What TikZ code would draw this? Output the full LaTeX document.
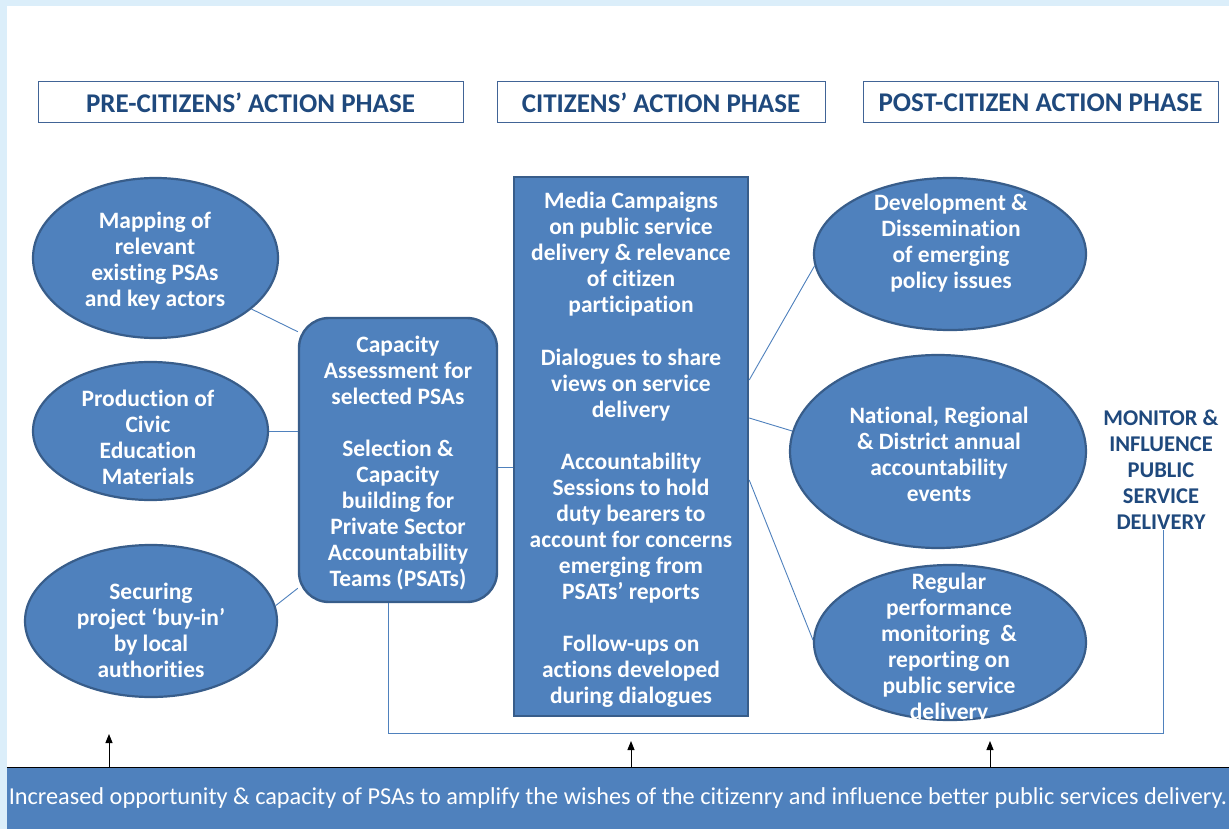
\documentclass[tikz,border=0pt]{standalone}
\usepackage{fontspec}
\setmainfont{Carlito}[Ligatures=NoCommon]
\usetikzlibrary{shapes.geometric,arrows.meta,calc}
\definecolor{obl}{RGB}{79,129,189}
\definecolor{obd}{RGB}{56,93,138}
\definecolor{navy}{RGB}{31,73,125}
\definecolor{ltb}{RGB}{219,238,250}
\definecolor{hdr}{RGB}{65,100,150}
\begin{document}
\begin{tikzpicture}[x=1pt,y=-1pt,
  hdrbox/.style={draw=hdr,line width=1pt,minimum height=41pt,inner sep=0pt,
    font=\bfseries\fontsize{27}{28}\selectfont,text=navy},
  oval/.style={ellipse,fill=obl,draw=obd,line width=2.2pt,inner sep=0pt},
  boxshape/.style={rectangle,fill=obl,draw=obd,line width=2.4pt,inner sep=0pt},
  wtxt/.style={align=center,text=white,font=\bfseries\fontsize{23.5}{26}\selectfont,inner sep=0pt,yshift=-2pt},
  conn/.style={draw=obl,line width=0.9pt},
  arr/.style={draw=black,line width=1pt,-{Triangle[width=7pt,length=9pt]}}]
\useasboundingbox (0,0) rectangle (1229,829);
\fill[ltb] (0,0) rectangle (1229,829);
\fill[white] (7,6) rectangle (1229,829);

% headers
\node[hdrbox,minimum width=425pt] (h1) at (250.5,102.5) {PRE-CITIZENS’ ACTION PHASE};
\node[hdrbox,minimum width=328pt] (h2) at (661,102.5) {CITIZENS’ ACTION PHASE};
\node[hdrbox,minimum width=355pt] (h3) at (1040.5,102.5) {POST-CITIZEN ACTION PHASE};

% left ovals
\node[oval,minimum width=245pt,minimum height=160pt] (e1) at (155.5,258) {};
\node[oval,minimum width=235pt,minimum height=138pt] (e2) at (150.5,431) {};
\node[oval,minimum width=252pt,minimum height=152pt] (e3) at (151,621) {};
\node[wtxt] (t1) at (155,259) {Mapping of\\relevant\\existing PSAs\\and key actors};
\node[wtxt] (t2) at (148,435) {Production of\\Civic\\Education\\Materials};
\node[wtxt] (t3) at (151,628) {Securing\\project ‘buy-in’\\by local\\authorities};

% capacity box
\node[boxshape,rounded corners=30pt,minimum width=198pt,minimum height=284pt] (cap) at (398,460) {};
\node[wtxt] (tc) at (398,461) {Capacity\\Assessment for\\selected PSAs\\[26pt]Selection \&\\Capacity\\building for\\Private Sector\\Accountability\\Teams (PSATs)};

% middle box
\node[boxshape,minimum width=234pt,minimum height=539pt] (mid) at (631,446.5) {};
\node[wtxt] (tm) at (631,448) {Media Campaigns\\on public service\\delivery \& relevance\\of citizen\\participation\\[26.5pt]Dialogues to share\\views on service\\delivery\\[26pt]Accountability\\Sessions to hold\\duty bearers to\\account for concerns\\emerging from\\PSATs’ reports\\[26.5pt]Follow-ups on\\actions developed\\during dialogues};

% right ovals
\node[oval,minimum width=272pt,minimum height=152pt] (r1) at (950,254) {};
\node[oval,minimum width=296pt,minimum height=193pt] (r2) at (938,451.5) {};
\node[oval,minimum width=272pt,minimum height=155pt] (r3) at (950,642.5) {};
\node[wtxt] (tr1) at (951,241) {Development \&\\Dissemination\\of emerging\\policy issues};
\node[wtxt] (tr2) at (939,452) {National, Regional\\\& District annual\\accountability\\events};
\node[wtxt] (tr3) at (949,646) {Regular\\performance\\monitoring\ \ \&\\reporting on\\public service\\delivery};

% monitor text
\node[align=center,text=navy,font=\bfseries\fontsize{22.5}{26}\selectfont,inner sep=0pt] (mon) at (1161,470) {MONITOR \&\\INFLUENCE\\PUBLIC\\SERVICE\\DELIVERY};

% connectors left
\draw[conn] (e1.-28) -- (cap.128.5);
\draw[conn] (e2.east) -- (e2.east -| cap.west);
\draw[conn] (e3.7) -- (cap.232);
\draw[conn] (cap.-4.5) -- (cap.-4.5 -| mid.west);
% connectors right
\draw[conn] ([yshift=66.5pt]mid.east) -- (r1.185.5);
\draw[conn] ([yshift=28.5pt]mid.east) -- (r2.172);
\draw[conn] ([yshift=-33.5pt]mid.east) -- (r3.179);

% feedback line
\coordinate (fb) at (1163,733);
\draw[conn] ([xshift=-10pt]cap.south) |- (fb) -- (fb |- mon.south);

% banner
\node[rectangle,fill=obl,minimum width=1222pt,minimum height=61pt,inner sep=0pt,
  text=white,font=\fontsize{24.3}{26}\selectfont] (banner) at (618,798.5)
  {Increased opportunity \& capacity of PSAs to amplify the wishes of the citizenry and influence better public services delivery.};
\draw[black,line width=1pt] (banner.north west) -- (banner.north east);

% arrows
\coordinate (a1) at (109,734);
\coordinate (a2) at (631,741);
\coordinate (a3) at (990,741);
\draw[arr] (banner.north -| a1) -- (a1);
\draw[arr] (banner.north -| a2) -- (a2);
\draw[arr] (banner.north -| a3) -- (a3);
\end{tikzpicture}
\end{document}
